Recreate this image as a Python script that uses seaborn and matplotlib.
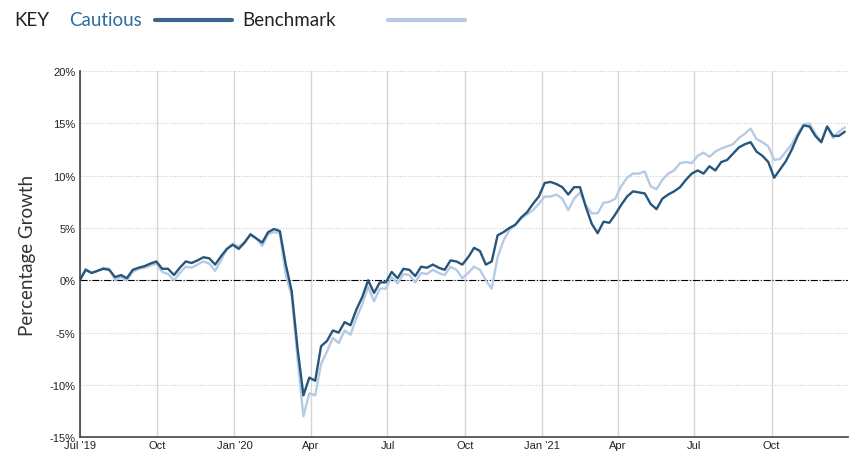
import numpy as np
import pandas as pd
import seaborn as sns
import matplotlib.pyplot as plt
import matplotlib.dates as mdates
from matplotlib.lines import Line2D
from matplotlib.ticker import FuncFormatter, MultipleLocator

# weekly values, % growth since 1 Jul 2019
weeks = pd.date_range("2019-07-01", periods=131, freq="7D")

cautious = [
    0.0, 1.0, 0.7, 0.9, 1.1, 1.0, 0.3, 0.5, 0.2, 1.0,
    1.2, 1.35, 1.6, 1.8, 1.1, 1.1, 0.5, 1.2, 1.8, 1.65,
    1.9, 2.2, 2.1, 1.5, 2.3, 3.0, 3.4, 3.0, 3.6, 4.4,
    4.0, 3.6, 4.6, 4.9, 4.7, 1.5, -1.0, -6.5, -11.0, -9.3,
    -9.6, -6.3, -5.8, -4.8, -5.0, -4.0, -4.3, -2.8, -1.6, 0.0,
    -1.2, -0.2, -0.2, 0.8, 0.2, 1.1, 1.0, 0.4, 1.3, 1.2,
    1.5, 1.2, 1.0, 1.9, 1.8, 1.5, 2.2, 3.1, 2.8, 1.5,
    1.8, 4.3, 4.6, 5.0, 5.3, 6.0, 6.5, 7.3, 8.0, 9.3,
    9.4, 9.2, 8.9, 8.2, 8.9, 8.9, 7.0, 5.4, 4.5, 5.6,
    5.5, 6.3, 7.2, 8.0, 8.5, 8.4, 8.3, 7.3, 6.8, 7.8,
    8.2, 8.5, 8.9, 9.6, 10.2, 10.5, 10.2, 10.9, 10.5, 11.3,
    11.5, 12.1, 12.7, 13.0, 13.2, 12.3, 11.9, 11.3, 9.8, 10.6,
    11.4, 12.5, 13.8, 14.8, 14.7, 13.8, 13.2, 14.7, 13.8, 13.8,
    14.2,
]

benchmark = [
    0.0, 1.1, 0.7, 0.9, 1.2, 1.1, 0.0, 0.3, 0.0, 0.8,
    1.1, 1.2, 1.4, 1.6, 0.8, 0.6, 0.0, 0.7, 1.3, 1.2,
    1.5, 1.8, 1.6, 0.9, 1.9, 3.0, 3.5, 3.2, 3.7, 4.3,
    4.0, 3.3, 4.4, 4.6, 4.5, 0.5, -1.5, -7.5, -13.0, -10.8,
    -11.0, -8.0, -6.8, -5.5, -6.0, -4.8, -5.2, -3.6, -2.3, -0.6,
    -2.0, -0.8, -0.8, 0.3, -0.3, 0.6, 0.5, -0.2, 0.7, 0.6,
    1.0, 0.7, 0.5, 1.3, 1.0, 0.2, 0.7, 1.3, 1.0, 0.0,
    -0.8, 2.2, 3.8, 4.8, 5.3, 5.9, 6.3, 6.7, 7.3, 8.0,
    8.0, 8.2, 7.8, 6.7, 7.8, 8.4, 7.2, 6.4, 6.4, 7.4,
    7.5, 7.8, 9.0, 9.8, 10.2, 10.2, 10.4, 9.0, 8.7, 9.6,
    10.2, 10.5, 11.2, 11.3, 11.2, 11.9, 12.2, 11.8, 12.3, 12.6,
    12.8, 13.0, 13.6, 14.0, 14.5, 13.5, 13.2, 12.8, 11.5, 11.6,
    12.3, 13.0, 14.0, 14.9, 15.0, 14.0, 13.2, 14.7, 13.6, 14.2,
    14.6,
]

dark = "#27567d"
light = "#b6cbe3"

df = pd.DataFrame({"Date": list(weeks) * 2,
                   "Growth": benchmark + cautious,
                   "Fund": ["Benchmark"] * len(weeks) + ["Cautious"] * len(weeks)})

sns.set_style("white")
plt.rcParams["font.family"] = ["Liberation Sans", "DejaVu Sans"]

fig = plt.figure(figsize=(8.49, 4.56), dpi=100)
ax = fig.add_axes([0.094, 0.039, 0.905, 0.803])

sns.lineplot(data=df, x="Date", y="Growth", hue="Fund",
             palette={"Benchmark": light, "Cautious": dark},
             linewidth=1.7, legend=False, ax=ax)

ax.set_xlim(pd.Timestamp("2019-07-01"), pd.Timestamp("2021-12-31"))
ax.set_ylim(-15, 20)
ax.yaxis.set_major_locator(MultipleLocator(5))
ax.yaxis.set_major_formatter(FuncFormatter(lambda v, p: f"{v:.0f}%"))

ax.xaxis.set_major_locator(mdates.MonthLocator(bymonth=[1, 4, 7, 10]))


def fmt_date(v, p):
    d = mdates.num2date(v)
    if d.month == 1 or (d.year == 2019 and d.month == 7):
        return d.strftime("%b '%y")
    return d.strftime("%b")


ax.xaxis.set_major_formatter(FuncFormatter(fmt_date))

ax.grid(axis="x", color="#d6d6d6", linewidth=1, linestyle="-")
ax.grid(axis="y", color="#cccccc", linewidth=0.8, linestyle=(0, (1, 1.5)))
ax.axhline(0, color="black", linewidth=0.8, linestyle="-.", zorder=1)
ax.set_axisbelow(True)

for s in ["top", "right"]:
    ax.spines[s].set_visible(False)
for s in ["left", "bottom"]:
    ax.spines[s].set_color("#444444")
    ax.spines[s].set_linewidth(1.2)

ax.tick_params(axis="both", labelsize=8, colors="#222222", length=2, pad=0)
ax.tick_params(axis="y", length=0, pad=3)
ax.set_xlabel("")
ax.set_ylabel("Percentage Growth", fontsize=13.5, color="#333333",
              family=["Lato", "DejaVu Sans"], labelpad=10)

# key along the top
key_font = dict(fontsize=13.5, va="center", family=["Lato", "DejaVu Sans"])
fig.text(14 / 849, 1 - 20 / 456, "KEY", color="#222222", **key_font)
fig.text(69 / 849, 1 - 20 / 456, "Cautious", color="#2e6b9e", **key_font)
fig.text(242 / 849, 1 - 20 / 456, "Benchmark", color="#222222", **key_font)
fig.add_artist(Line2D([155 / 849, 232 / 849], [1 - 21 / 456] * 2,
                      color="#3d658d", linewidth=3, transform=fig.transFigure))
fig.add_artist(Line2D([388 / 849, 465 / 849], [1 - 21 / 456] * 2,
                      color=light, linewidth=3, transform=fig.transFigure))

fig.savefig("out.png", dpi=100)
